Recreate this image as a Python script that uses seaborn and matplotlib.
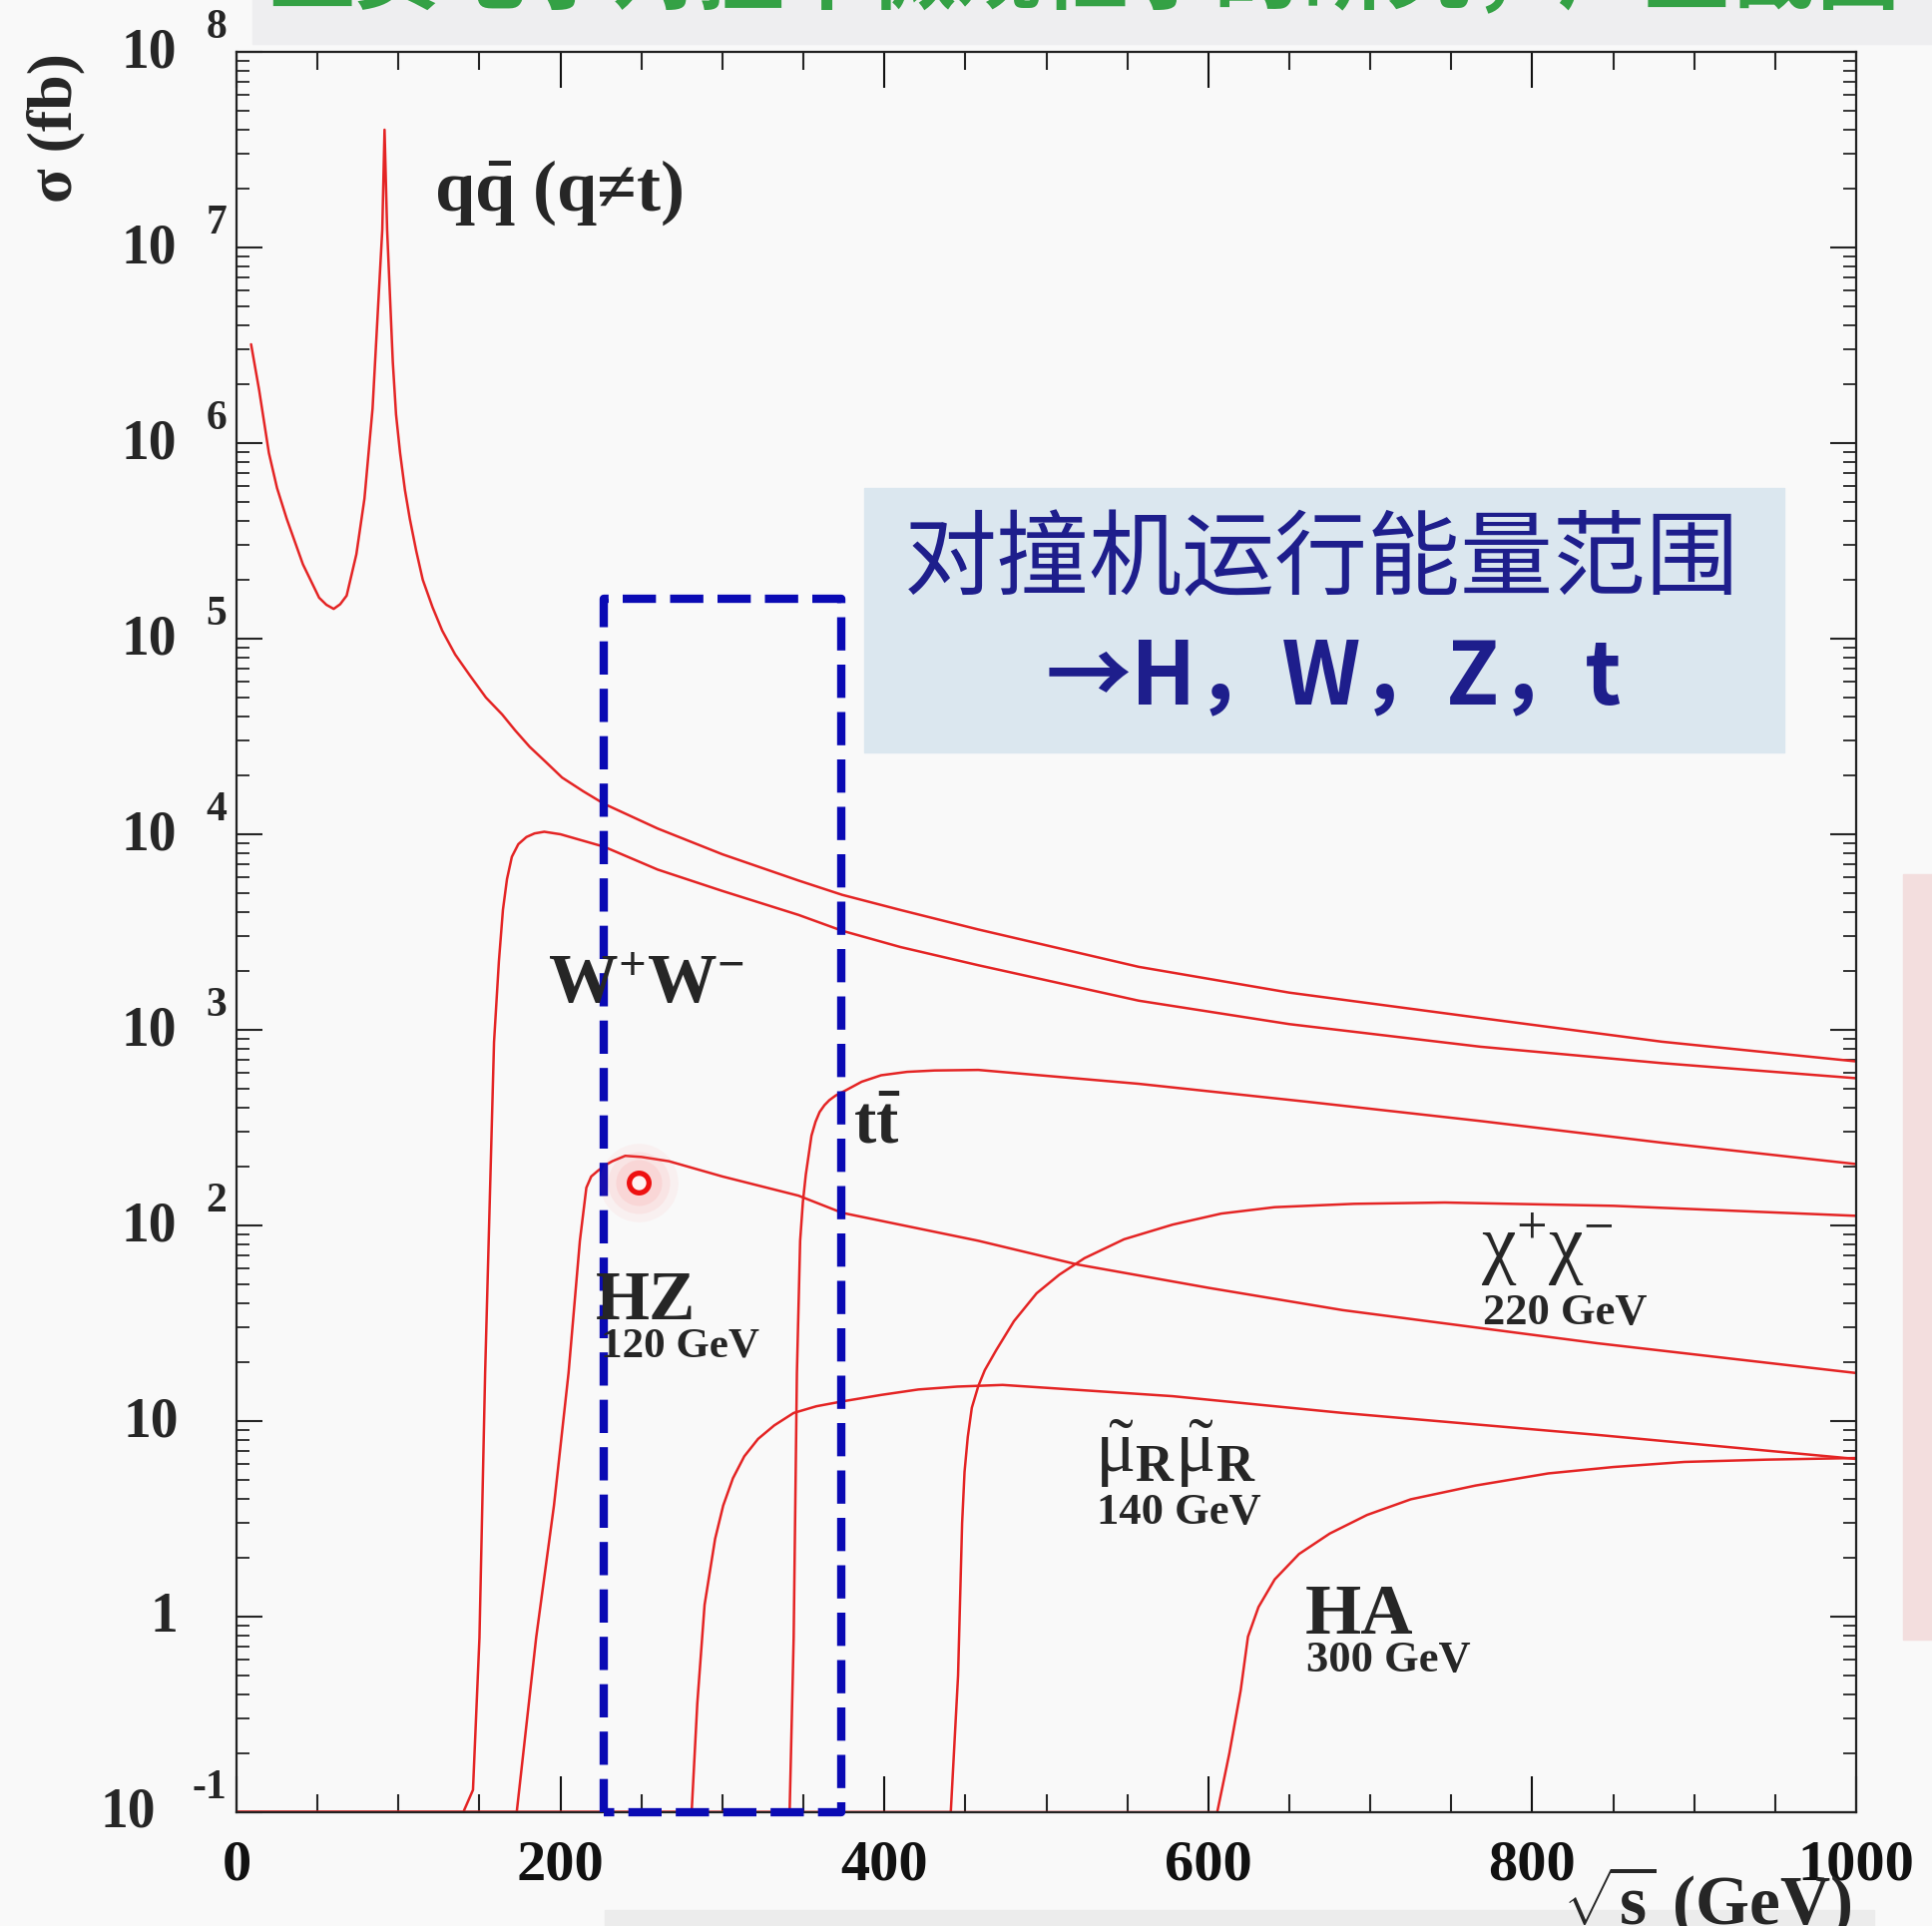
import numpy as np
import pandas as pd
import matplotlib
matplotlib.use("Agg")
import matplotlib.pyplot as plt
import matplotlib.transforms as mtransforms
from matplotlib.patches import Rectangle
from matplotlib.ticker import MultipleLocator, LogLocator, NullFormatter
import seaborn as sns

# ---------------- data (sigma in fb vs sqrt(s) in GeV) ----------------
qq_x = [9, 14, 20, 25, 31, 41, 51, 55.5, 60, 64, 68, 74, 79, 84, 87, 90, 91.4, 93, 96.5,
        98.5, 101, 104, 107, 111, 115, 121, 127, 135, 144, 154, 164, 172, 181, 191, 201,
        214, 227, 260, 300, 347, 374, 410, 458, 557, 650, 768, 880, 1000]
qq_y = [3.2e6, 1.86e6, 8.9e5, 5.9e5, 4.1e5, 2.4e5, 1.62e5, 1.49e5, 1.42e5, 1.5e5, 1.66e5,
        2.7e5, 5.2e5, 1.5e6, 4.3e6, 1.23e7, 4.0e7, 1.23e7, 2.6e6, 1.4e6, 8.9e5, 5.75e5,
        4.1e5, 2.8e5, 2.0e5, 1.45e5, 1.1e5, 8.3e4, 6.5e4, 5.0e4, 4.1e4, 3.4e4, 2.8e4,
        2.34e4, 1.95e4, 1.66e4, 1.43e4, 1.07e4, 7.9e3, 5.8e3, 4.9e3, 4.1e3, 3.26e3, 2.1e3,
        1.55e3, 1.15e3, 870, 690]

ww_x = [0, 140, 146, 150, 153.5, 159, 162, 164.5, 167, 170, 174, 179, 184, 190, 200, 227,
        260, 300, 347, 374, 410, 458, 557, 650, 768, 880, 1000]
ww_y = [0.1, 0.1, 0.13, 0.78, 17.6, 865, 2240, 4110, 5900, 7670, 8900, 9680, 1.01e4,
        1.03e4, 1.0e4, 8630, 6600, 5130, 3870, 3210, 2650, 2140, 1410, 1070, 820, 676, 566]

hz_x = [0, 173, 185, 196, 205, 212, 216, 219, 223, 228, 232, 240, 250, 267, 300, 347, 374,
        458, 519, 600, 683, 840, 1000]
hz_y = [0.1, 0.1, 0.78, 3.7, 17.6, 83.5, 156, 178, 190, 204, 213, 227, 224, 213, 178, 142,
        116, 83.5, 63.2, 48, 36.9, 25, 17.6]

tt_x = [0, 341.5, 344, 346, 348, 349.7, 351.5, 355, 357.5, 360, 363, 366, 370, 376, 386,
        398, 414, 431, 458, 557, 660, 768, 880, 1000]
tt_y = [0.1, 0.1, 0.78, 17.6, 83.5, 132, 182, 288, 339, 380, 412, 437, 462, 490, 543, 586,
        610, 620, 624, 530, 430, 342, 265, 206]

cc_x = [0, 441, 445.5, 448, 449.5, 451.5, 454, 458, 462, 469, 480, 494, 508, 523.5, 548,
        578, 608, 641, 690, 746, 850, 1000]
cc_y = [0.1, 0.1, 0.5, 3.0, 5.5, 8.3, 11.7, 15.1, 18.2, 23, 32.4, 45, 56, 68, 85, 101,
        115, 124, 129, 131, 126, 112]

mm_x = [0, 281, 284.5, 289, 295.5, 300.5, 306.5, 313.5, 322, 332, 344, 358, 374, 398, 421,
        445, 473, 578, 683, 840, 1000]
mm_y = [0.1, 0.1, 0.36, 1.15, 2.5, 3.7, 5.1, 6.6, 8.1, 9.5, 11.0, 11.9, 12.6, 13.6, 14.5,
        15.0, 15.3, 13.4, 11.0, 8.5, 6.4]

ha_x = [0, 605.5, 613, 620, 624.5, 631, 641, 656, 675, 698, 725, 765, 810, 850, 894, 945,
        1000]
ha_y = [0.1, 0.1, 0.2, 0.42, 0.79, 1.12, 1.55, 2.09, 2.66, 3.31, 3.98, 4.68, 5.4, 5.82,
        6.18, 6.35, 6.47]

processes = ["qq", "WW", "HZ", "tt", "chichi", "mumu", "HA"]

# collider energy window and the marked point
box_x = [226.5, 373.5]
box_top = 1.6e5
mark_x = [248]
mark_y = [166]

x_ticks = [0, 200, 400, 600, 800, 1000]
y_exps = [-1, 0, 1, 2, 3, 4, 5, 6, 7, 8]

title_text = "正负电子对撞中微观粒子的研究，产生截面"
box_line1 = "对撞机运行能量范围"
box_line2 = "→H，W，Z，t"

# ---------------- style ----------------
sns.set_theme(style="ticks")
plt.rcParams["font.family"] = ["Liberation Serif", "DejaVu Serif"]
plt.rcParams["mathtext.fontset"] = "custom"
plt.rcParams["mathtext.rm"] = "Liberation Serif"
plt.rcParams["mathtext.it"] = "Liberation Serif:italic"
plt.rcParams["mathtext.bf"] = "Liberation Serif:bold"

W, H = 1936, 1931
BG = "#f9f9f9"
RED = "#e42424"
BLUE = "#0a0ab4"
NAVY = "#1e1e8c"

fig = plt.figure(figsize=(W / 100, H / 100), dpi=100, facecolor=BG)
L, R, T, B = 237, 1860, 53, 1817
ax = fig.add_axes([L / W, 1 - B / H, (R - L) / W, (B - T) / H])
ax.set_facecolor(BG)


def P(X, Y):
    return (X / W, 1 - Y / H)


# decorative slide elements
fig.patches.append(Rectangle(P(253, 45), (W - 253) / W, 45 / H, transform=fig.transFigure,
                             color="#eeeef0", zorder=0))
fig.patches.append(Rectangle(P(1907, 1644), (W - 1907) / W, (1644 - 877) / H,
                             transform=fig.transFigure, color="#f3dede", zorder=0))
fig.patches.append(Rectangle(P(606, H), (1878 - 606) / W, 16 / H,
                             transform=fig.transFigure, color="#ececec", zorder=0))
fig.text(*P(1087, 2), title_text, ha="center", va="baseline", fontsize=62,
         color="#34a145", fontweight="bold", family=["Noto Sans CJK SC", "DejaVu Sans"])

# ---------------- curves ----------------
frames = []
for name, xs, ys in zip(processes, [qq_x, ww_x, hz_x, tt_x, cc_x, mm_x, ha_x],
                        [qq_y, ww_y, hz_y, tt_y, cc_y, mm_y, ha_y]):
    frames.append(pd.DataFrame({"sqrt_s": xs, "sigma": ys, "process": name}))
df = pd.concat(frames, ignore_index=True)

sns.lineplot(data=df, x="sqrt_s", y="sigma", units="process", estimator=None, sort=False,
             color=RED, linewidth=1.8, ax=ax, legend=False, zorder=2)

ax.set_yscale("log")
ax.set_xlim(0, 1000)
ax.set_ylim(0.1, 1e8)
ax.set_xlabel("")
ax.set_ylabel("")

# ---------------- ticks ----------------
ax.xaxis.set_major_locator(MultipleLocator(200))
ax.xaxis.set_minor_locator(MultipleLocator(50))
ax.yaxis.set_major_locator(LogLocator(base=10, numticks=20))
ax.yaxis.set_minor_locator(LogLocator(base=10, subs=np.arange(2, 10), numticks=200))
ax.yaxis.set_minor_formatter(NullFormatter())
ax.tick_params(axis="x", which="major", direction="in", length=26, width=1.5,
               top=True, bottom=True, labelsize=42, pad=19, colors="#111111")
ax.tick_params(axis="x", which="minor", direction="in", length=13, width=1.5,
               top=True, bottom=True)
ax.tick_params(axis="y", which="major", direction="in", length=19, width=1.5,
               left=True, right=True, labelleft=False)
ax.tick_params(axis="y", which="minor", direction="in", length=9.5, width=1.3,
               left=True, right=True)
ax.set_xticks(x_ticks)
ax.set_xticklabels([str(v) for v in x_ticks], fontweight="bold")
for s in ax.spines.values():
    s.set_linewidth(1.6)
    s.set_color("#222222")
    s.set_visible(True)

# y tick labels as "10" + raised exponent
ytr = mtransforms.blended_transform_factory(fig.transFigure, ax.transData)
for k in y_exps:
    if k == 0:
        ax.text(178 / W, 10.0 ** k, "1", transform=ytr, ha="right", va="center",
                fontsize=40, fontweight="bold")
    elif k == 1:
        ax.text(179 / W, 10.0 ** k, "10", transform=ytr, ha="right", va="center",
                fontsize=40, fontweight="bold")
    else:
        base_right = 177 if k > 0 else 156
        ax.text(base_right / W, 10.0 ** k, "10", transform=ytr, ha="right", va="center",
                fontsize=40, fontweight="bold")
        ax.text(227 / W, 10.0 ** (k + 0.13), str(k), transform=ytr, ha="right",
                va="center", fontsize=30, fontweight="bold")

# axis titles
fig.text(*P(56, 128), "σ (fb)", rotation=90, ha="center", va="center", fontsize=46,
         fontweight="bold")
fig.text(*P(1855, 1867), r"$\sqrt{\mathbf{s}}$ (GeV)", ha="right", va="top",
         fontsize=50, fontweight="bold")

# ---------------- curve labels ----------------
fig.text(*P(435, 211), r"$\mathbf{q\bar{q}}$ (q≠t)", ha="left", va="baseline",
         fontsize=52, fontweight="bold", zorder=3)
fig.text(*P(549, 1005), r"$\mathbf{W^{+}W^{-}}$", ha="left", va="baseline",
         fontsize=50, zorder=3)
fig.text(*P(855, 1145), r"$\mathbf{t\bar{t}}$", ha="left", va="baseline",
         fontsize=48, zorder=3)
fig.text(*P(597, 1322), "HZ", ha="left", va="baseline", fontsize=50,
         fontweight="bold", zorder=3)
fig.text(*P(602, 1360), "120 GeV", ha="left", va="baseline", fontsize=31,
         fontweight="bold", zorder=3)
fig.text(*P(1484, 1272), r"$\mathrm{\chi^{+}\chi^{-}}$", ha="left", va="baseline",
         fontsize=56, zorder=3)
fig.text(*P(1486, 1327), "220 GeV", ha="left", va="baseline", fontsize=32,
         fontweight="bold", zorder=3)
fig.text(*P(1097, 1475), r"$\tilde{\mathrm{\mu}}_{\mathbf{R}}\tilde{\mathrm{\mu}}_{\mathbf{R}}$",
         ha="left", va="baseline", fontsize=54, zorder=3)
fig.text(*P(1099, 1527), "140 GeV", ha="left", va="baseline", fontsize=32,
         fontweight="bold", zorder=3)
fig.text(*P(1308, 1637), "HA", ha="left", va="baseline", fontsize=52,
         fontweight="bold", zorder=3)
fig.text(*P(1309, 1675), "300 GeV", ha="left", va="baseline", fontsize=32,
         fontweight="bold", zorder=3)

# ---------------- energy window box ----------------
bx = [box_x[0], box_x[0], box_x[1], box_x[1], box_x[0]]
by = [0.1, box_top, box_top, 0.1, 0.1]
ax.plot(bx, by, color=BLUE, linewidth=6, linestyle=(0, (4, 1.7)), clip_on=False, zorder=5)

# highlighted point with glow
for s_, a_ in [(3200, 0.06), (2000, 0.08), (1100, 0.1)]:
    ax.scatter(mark_x, mark_y, s=s_, color="#ff6060", alpha=a_, linewidths=0, zorder=6)
ax.scatter(mark_x, mark_y, s=200, facecolor="#fff2f2", edgecolor="#ee1010",
           linewidths=3.8, zorder=7)

# ---------------- info box ----------------
fig.patches.append(Rectangle(P(866, 755), (1788 - 866) / W, (755 - 490) / H,
                             transform=fig.transFigure, color="#dbe7ef", zorder=8))
fig.text(*P(1324, 563), box_line1, ha="center", va="center", fontsize=67, color=NAVY,
         family=["Noto Sans CJK SC", "DejaVu Sans"], zorder=9)
fig.text(*P(1336, 680), box_line2, ha="center", va="center", fontsize=62, color=NAVY,
         fontweight="bold", family=["Noto Sans CJK SC", "DejaVu Sans"], zorder=9)

fig.savefig("out.png", dpi=100, facecolor=BG)
